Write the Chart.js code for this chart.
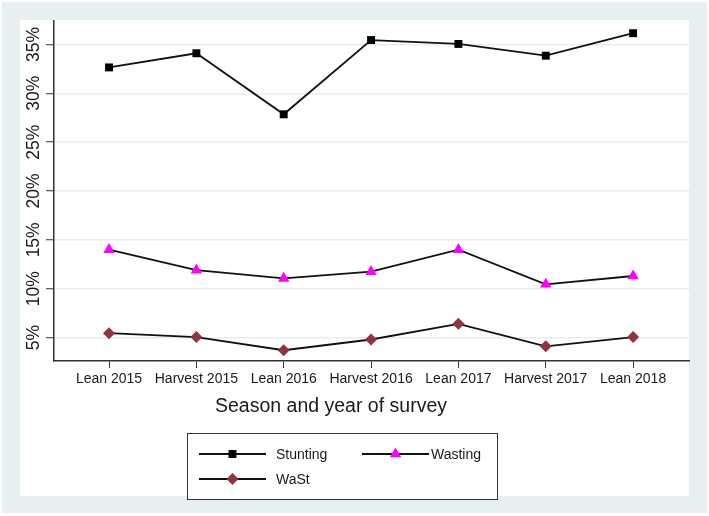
<!DOCTYPE html>
<html>
<head>
<meta charset="utf-8">
<script src="https://cdn.jsdelivr.net/npm/chart.js@4"></script>
<style>
  body { margin: 0; background: #fff; }
  canvas { display: block; }
</style>
</head>
<body>
<canvas id="chart" width="709" height="516"></canvas>
<script>
// survey rounds and prevalence (%)
const categories = ['Lean 2015', 'Harvest 2015', 'Lean 2016', 'Harvest 2016', 'Lean 2017', 'Harvest 2017', 'Lean 2018'];
const stunting = [32.65, 34.1, 27.85, 35.45, 35.05, 33.85, 36.15];
const wasting = [14.0, 11.9, 11.05, 11.75, 14.0, 10.45, 11.3];
const wast = [5.45, 5.05, 3.7, 4.8, 6.4, 4.1, 5.05];
const yTicks = [5, 10, 15, 20, 25, 30, 35];

const FONT = 'Liberation Sans, Arial, sans-serif';

function toPoints(values) {
    return values.map((v, i) => ({ x: i, y: v }));
}

// stata-like frame, rotated y labels, axis title and boxed legend
const framePlugin = {
    id: 'frame',
    beforeDraw(chart) {
        const ctx = chart.ctx;
        ctx.save();
        ctx.fillStyle = '#ffffff';
        ctx.fillRect(0, 0, chart.width, chart.height);
        ctx.fillStyle = '#e8eff1';
        ctx.fillRect(2, 2, 705, 511);
        ctx.fillStyle = '#ffffff';
        ctx.fillRect(20, 20, 669, 476);
        ctx.restore();
    },
    afterDraw(chart) {
        const ctx = chart.ctx;
        const yScale = chart.scales.y;
        ctx.save();
        ctx.fillStyle = '#1a1a1a';

        // y tick labels, read bottom to top
        ctx.font = '17.5px ' + FONT;
        ctx.textAlign = 'center';
        ctx.textBaseline = 'middle';
        yTicks.forEach(t => {
            const y = yScale.getPixelForValue(t);
            ctx.save();
            ctx.translate(34, y);
            ctx.rotate(-Math.PI / 2);
            ctx.fillText(t + '%', 0, 0);
            ctx.restore();
        });

        // x axis title
        ctx.font = '19.5px ' + FONT;
        ctx.fillText('Season and year of survey', 331, 407);

        // legend box
        ctx.fillStyle = '#ffffff';
        ctx.fillRect(187, 433.5, 311, 66);
        ctx.strokeStyle = '#333333';
        ctx.lineWidth = 1;
        ctx.strokeRect(187.5, 433.5, 310, 66);

        const slots = [
            { x: 199, y: 454 },
            { x: 362, y: 454 },
            { x: 199, y: 479 }
        ];
        ctx.font = '14px ' + FONT;
        ctx.textAlign = 'left';
        chart.data.datasets.forEach((ds, i) => {
            const s = slots[i];
            ctx.strokeStyle = ds.borderColor;
            ctx.lineWidth = ds.borderWidth;
            ctx.beginPath();
            ctx.moveTo(s.x, s.y);
            ctx.lineTo(s.x + 67, s.y);
            ctx.stroke();
            ctx.fillStyle = ds.pointBackgroundColor;
            ctx.strokeStyle = ds.pointBackgroundColor;
            Chart.helpers.drawPoint(ctx, {
                pointStyle: ds.pointStyle,
                radius: ds.pointRadius,
                rotation: 0,
                borderWidth: 0
            }, s.x + 33.5, s.y);
            ctx.fillStyle = '#1a1a1a';
            ctx.fillText(ds.label, s.x + (i === 1 ? 69 : 77), s.y + 1);
        });
        ctx.restore();
    }
};

const ctx = document.getElementById('chart').getContext('2d');

new Chart(ctx, {
    type: 'line',
    data: {
        datasets: [
            {
                label: 'Stunting',
                data: toPoints(stunting),
                borderColor: '#111111',
                borderWidth: 1.8,
                pointStyle: 'rect',
                pointRadius: 5.6,
                pointBackgroundColor: '#000000',
                pointBorderColor: '#000000',
                pointBorderWidth: 0
            },
            {
                label: 'Wasting',
                data: toPoints(wasting),
                borderColor: '#111111',
                borderWidth: 1.8,
                pointStyle: 'triangle',
                pointRadius: 6.6,
                pointBackgroundColor: '#ff00ff',
                pointBorderColor: '#ff00ff',
                pointBorderWidth: 0
            },
            {
                label: 'WaSt',
                data: toPoints(wast),
                borderColor: '#111111',
                borderWidth: 1.8,
                pointStyle: 'rectRot',
                pointRadius: 6,
                pointBackgroundColor: '#8f353b',
                pointBorderColor: '#8f353b',
                pointBorderWidth: 0
            }
        ]
    },
    options: {
        responsive: false,
        animation: false,
        layout: { padding: { left: 0, top: 21, right: 20, bottom: 0 } },
        plugins: {
            legend: { display: false },
            tooltip: { enabled: false }
        },
        scales: {
            x: {
                type: 'linear',
                min: -0.63,
                max: 6.64,
                afterBuildTicks: scale => {
                    scale.ticks = categories.map((c, i) => ({ value: i }));
                },
                afterFit: scale => { scale.height = 155; },
                grid: {
                    drawOnChartArea: false,
                    drawTicks: true,
                    tickLength: 7,
                    tickColor: '#333333',
                    tickWidth: 1
                },
                border: { display: true, color: '#333333', width: 1.5 },
                ticks: {
                    autoSkip: false,
                    maxRotation: 0,
                    padding: 3,
                    color: '#1a1a1a',
                    font: { family: FONT, size: 14 },
                    callback: value => categories[value]
                }
            },
            y: {
                min: 2.6,
                max: 37.4,
                afterBuildTicks: scale => {
                    scale.ticks = yTicks.map(v => ({ value: v }));
                },
                afterFit: scale => { scale.width = 54; },
                grid: {
                    color: '#e6eef1',
                    lineWidth: 1.5,
                    drawTicks: true,
                    tickLength: 8,
                    tickColor: '#333333',
                    tickWidth: 1
                },
                border: { display: true, color: '#333333', width: 1.5 },
                ticks: { display: false }
            }
        }
    },
    plugins: [framePlugin]
});
</script>
</body>
</html>
